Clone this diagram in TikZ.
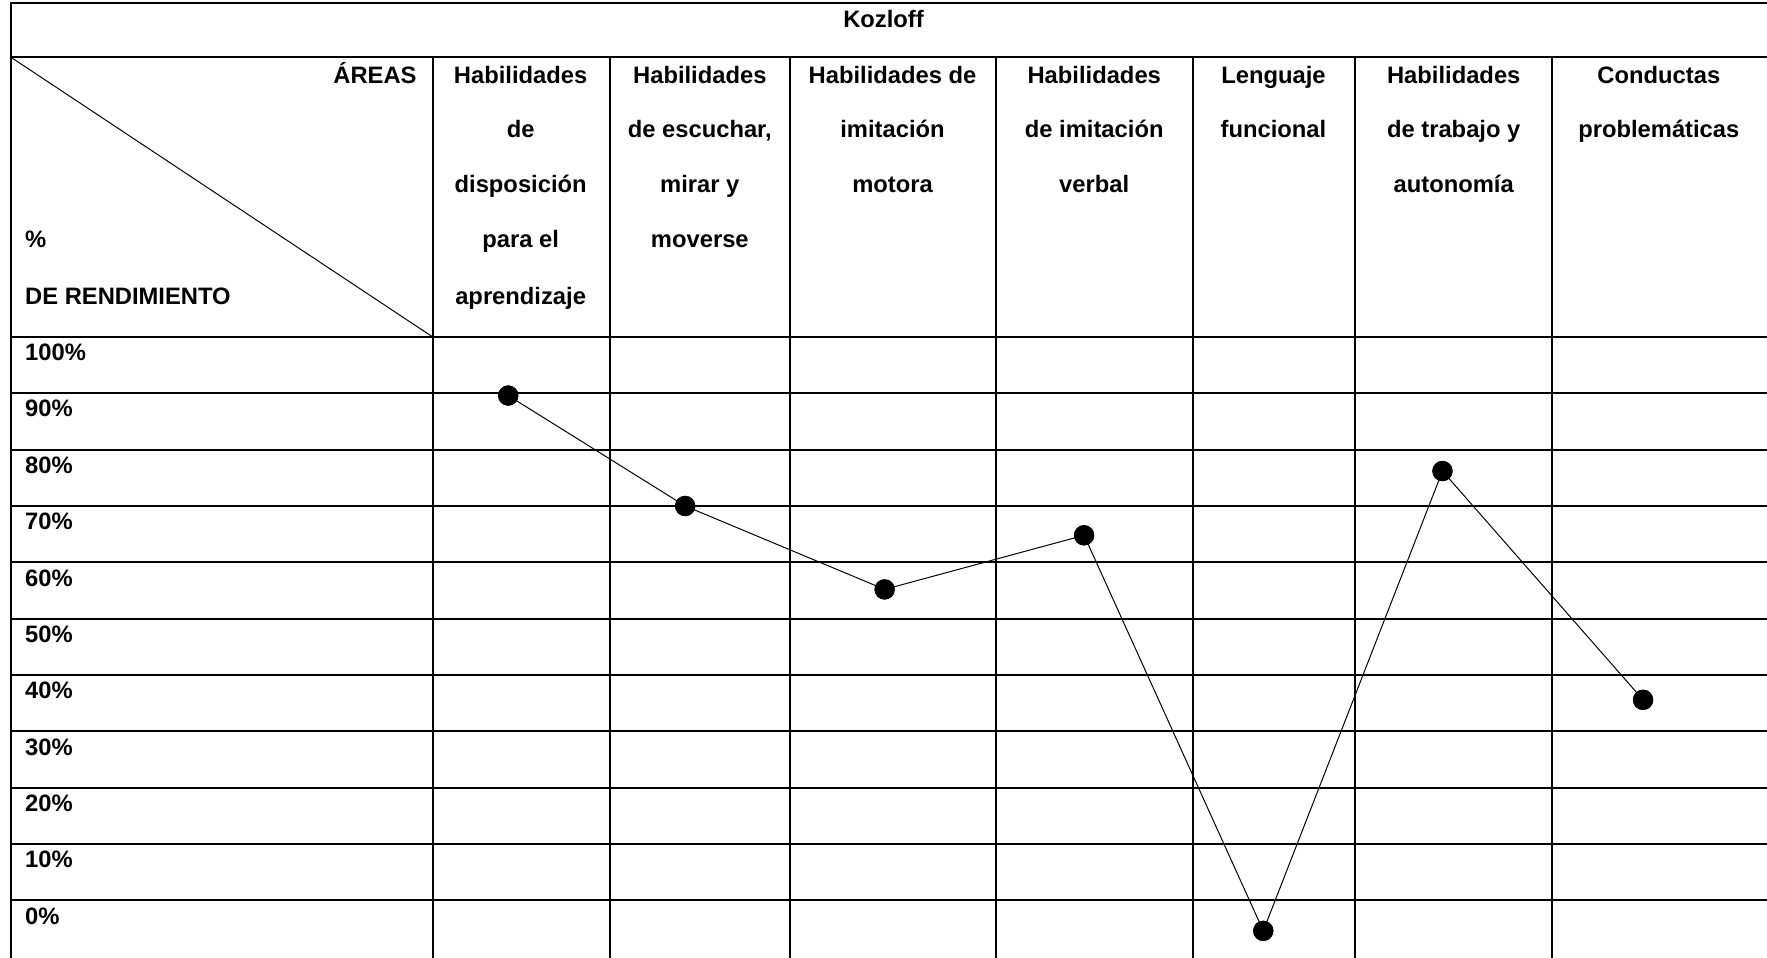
\documentclass[tikz,border=0pt]{standalone}
\usepackage{fontspec}
\setmainfont{Liberation Sans}
\begin{document}
\begin{tikzpicture}[x=0.02cm,y=-0.02cm,
  grid/.style={line width=1pt, line cap=rect},
  fine/.style={line width=0.5pt},
  lbl/.style={font=\fontsize{12}{14}\selectfont\bfseries, inner sep=0pt, anchor=base},
  pct/.style={lbl, anchor=base west},
  dot/.style={circle, fill=black, inner sep=0pt, minimum size=0.36cm}]
\useasboundingbox (0,0) rectangle (1568,850);
% table grid
\draw[grid] (10,3) -- (1568,3);
\draw[grid] (10,51) -- (1568,51);
\draw[grid] (10,3) -- (10,852);
\foreach \x in {384,541,701,884,1059,1202,1377} \draw[grid] (\x,51) -- (\x,852);
\foreach \i in {0,...,10} \draw[grid] (10,299+50*\i) -- (1568,299+50*\i);
% diagonal in corner cell
\coordinate (dA) at (10,51);
\coordinate (dB) at (384,299);
\draw[fine] (dA) -- (dB);
% title
\node[lbl] (title) at (784,24) {Kozloff};
% corner labels
\node[lbl, anchor=base east] (areas) at (370,74) {ÁREAS};
\node[pct] (pc) at (22,220) {\%};
\node[pct] (dr) at (22,270) {DE RENDIMIENTO};
% column headers
\node[lbl] (c1a) at (462,74) {Habilidades};
\node[lbl] (c1b) at (462,122) {de};
\node[lbl] (c1c) at (462,171) {disposición};
\node[lbl] (c1d) at (462,220) {para el};
\node[lbl] (c1e) at (462,270) {aprendizaje};
\node[lbl] (c2a) at (621,74) {Habilidades};
\node[lbl] (c2b) at (621,122) {de escuchar,};
\node[lbl] (c2c) at (621,171) {mirar y};
\node[lbl] (c2d) at (621,220) {moverse};
\node[lbl] (c3a) at (792,74) {Habilidades de};
\node[lbl] (c3b) at (792,122) {imitación};
\node[lbl] (c3c) at (792,171) {motora};
\node[lbl] (c4a) at (971,74) {Habilidades};
\node[lbl] (c4b) at (971,122) {de imitación};
\node[lbl] (c4c) at (971,171) {verbal};
\node[lbl] (c5a) at (1130,74) {Lenguaje};
\node[lbl] (c5b) at (1130,122) {funcional};
\node[lbl] (c6a) at (1290,74) {Habilidades};
\node[lbl] (c6b) at (1290,122) {de trabajo y};
\node[lbl] (c6c) at (1290,171) {autonomía};
\node[lbl] (c7a) at (1472,74) {Conductas};
\node[lbl] (c7b) at (1472,122) {problemáticas};
% percentage labels
\foreach \p [count=\i from 0] in {100,90,...,0}
  \node[pct] (r\p) at (22,320+50*\i) {\p\%};
% data points
\node[dot] (p1) at (451,351) {};
\node[dot] (p2) at (608,449) {};
\node[dot] (p3) at (785,523) {};
\node[dot] (p4) at (962,475) {};
\node[dot] (p5) at (1121,826) {};
\node[dot] (p6) at (1280,418) {};
\node[dot] (p7) at (1458,621) {};
\draw[fine] (p1.center) -- (p2.center) -- (p3.center) -- (p4.center) -- (p5.center) -- (p6.center) -- (p7.center);
\foreach \n in {p1,p2,p3,p4,p5,p6,p7} \fill (\n) circle[radius=9];
\end{tikzpicture}
\end{document}
